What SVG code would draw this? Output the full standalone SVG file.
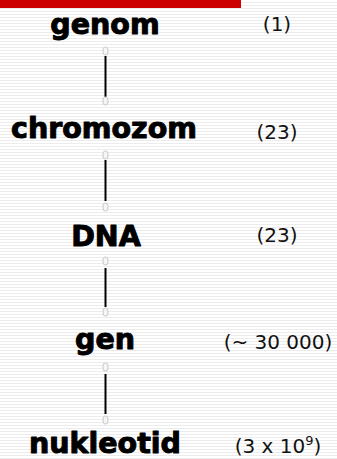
<svg xmlns="http://www.w3.org/2000/svg" width="337" height="459" viewBox="0 0 337 459">
  <defs>
    <!-- faint horizontal ruling over the white page -->
    <pattern id="ruling" width="4" height="3" patternUnits="userSpaceOnUse">
      <rect width="4" height="3" fill="#ffffff"/>
      <rect y="2" width="4" height="1" fill="#ececec"/>
    </pattern>
  </defs>
  <style>
    .term { font-family: "DejaVu Sans", "Liberation Sans", sans-serif; font-weight: bold; font-size: 28.5px; fill: #000; stroke: #000; stroke-width: 1px; stroke-linejoin: round; text-anchor: middle; }
    .count { font-family: "DejaVu Sans", "Liberation Sans", sans-serif; font-size: 20px; fill: #111; text-anchor: middle; }
    .link { stroke: #000; stroke-width: 2; fill: none; }
    .end { fill: #f6f6f6; stroke: #cfcfcf; stroke-width: 1.2; }
  </style>

  <rect width="337" height="459" fill="url(#ruling)"/>
  <rect x="0" y="0" width="241" height="8" fill="#cc0000"/>

  <g id="connectors">
    <line class="link" x1="105.5" y1="56" x2="105.5" y2="97"/>
    <ellipse class="end" cx="105.5" cy="51" rx="2.5" ry="4"/>
    <ellipse class="end" cx="105.5" cy="101" rx="2.5" ry="4"/>

    <line class="link" x1="105.5" y1="160" x2="105.5" y2="201"/>
    <ellipse class="end" cx="105.5" cy="155" rx="2.5" ry="4"/>
    <ellipse class="end" cx="105.5" cy="207" rx="2.5" ry="4"/>

    <line class="link" x1="105.5" y1="268" x2="105.5" y2="307"/>
    <ellipse class="end" cx="105.5" cy="261" rx="2.5" ry="4"/>
    <ellipse class="end" cx="105.5" cy="312" rx="2.5" ry="4"/>

    <line class="link" x1="105.5" y1="374" x2="105.5" y2="414"/>
    <ellipse class="end" cx="105.5" cy="367" rx="2.5" ry="4"/>
    <ellipse class="end" cx="105.5" cy="420" rx="2.5" ry="4"/>
  </g>

  <g id="genom">
    <text class="term" x="105" y="34">genom</text>
    <text class="count" x="277" y="31">(1)</text>
  </g>
  <g id="chromozom">
    <text class="term" x="104" y="138">chromozom</text>
    <text class="count" x="277" y="139">(23)</text>
  </g>
  <g id="dna">
    <text class="term" x="106" y="246">DNA</text>
    <text class="count" x="277" y="242">(23)</text>
  </g>
  <g id="gen">
    <text class="term" x="105" y="349">gen</text>
    <text class="count" x="278" y="349">(~ 30 000)</text>
  </g>
  <g id="nukleotid">
    <text class="term" x="105" y="453">nukleotid</text>
    <text class="count" x="278" y="453">(3 x 10<tspan dy="-8" font-size="13">9</tspan><tspan dy="8">)</tspan></text>
  </g>
</svg>
